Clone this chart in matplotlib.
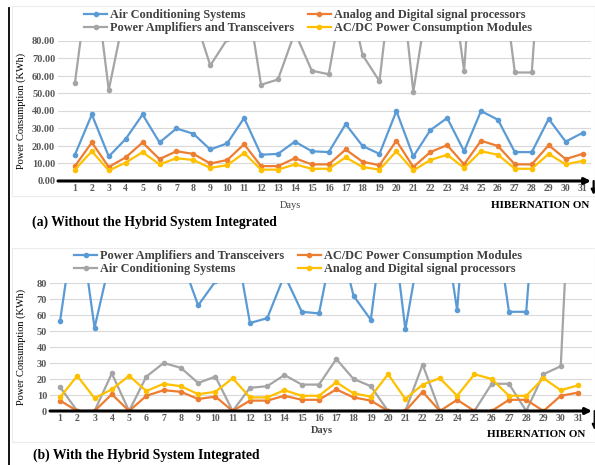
import matplotlib
matplotlib.use("Agg")
import matplotlib.pyplot as plt
from matplotlib.lines import Line2D
from matplotlib.patches import Rectangle

days = list(range(1, 32))

# Panel (a): without hybrid system
a_air = [15, 38, 14, 24, 38, 22, 30, 27, 18, 21.5, 36, 15, 15.5, 22.5, 17, 16.5,
         32.5, 20, 15.5, 40, 14, 29, 36, 17, 40, 35, 16.5, 16.5, 35.5, 22.5, 27.5]
a_amp = [56, 130, 52, 99, 120, 130, 110, 96, 66, 81, 116, 55, 58, 85, 63, 61,
         115, 72, 57, 140, 51, 113, 134, 63, 200, 137, 62, 62, 200, 130, 140]
a_adsp = [8.5, 22, 8, 13.5, 22, 12.5, 17, 15.5, 10, 12, 21, 8.5, 8.5, 13, 9.5, 9.5,
          18, 11, 9, 23, 8, 16.5, 20.5, 9.5, 23, 20, 9.5, 9.5, 20.5, 12.5, 15.5]
a_acdc = [6.5, 17, 6, 10.5, 16.5, 9.5, 13, 12, 7.5, 9, 16, 6.5, 6.5, 9.5, 7, 7,
          13.5, 8, 6.5, 17, 6, 12, 15, 7.5, 17, 15, 7, 7, 15.5, 9.5, 11.5]

# Panel (b): with hybrid system
b_amp = [56, 130, 52, 99, 120, 130, 110, 96, 66, 81, 116, 55, 58, 85, 62, 61,
         115, 72, 57, 140, 51, 113, 134, 63, 200, 137, 62, 62, 200, 130, 140]
b_acdc = [6.5, 0, 0, 10.5, 0, 9.5, 13, 12, 7.5, 9, 0, 6.5, 6.5, 9.5, 7, 7,
          13.5, 8.5, 6.5, 0, 0, 12, 0, 7, 0, 0, 7, 7, 0, 9.5, 11.5]
b_air = [15, 0, 0, 23.5, 0, 21.5, 30, 27, 17.5, 21.5, 0, 14.5, 15.5, 22.5, 16.5, 16.5,
         32.5, 20, 15.5, 0, 0, 29, 0, 0, 0, 17, 17, 0, 23, 28, 250]
b_adsp = [8.5, 22, 8, 13.5, 22, 12.5, 17, 15.5, 10.5, 12, 20.5, 8.5, 8.5, 13, 9.5, 9.5,
          18, 11, 9, 23, 7.5, 16.5, 20.5, 9.5, 23, 20, 9.5, 9.5, 20.5, 13, 16]

BLUE = "#5b9bd5"
ORANGE = "#ed7d31"
GRAY = "#a5a5a5"
YELLOW = "#ffc000"

SERIF = ["Liberation Serif", "DejaVu Serif"]
W, H = 595, 465

fig = plt.figure(figsize=(W / 100, H / 100), dpi=100)


def px_axes(l, t, r, b):
    return fig.add_axes([l / W, 1 - b / H, (r - l) / W, (b - t) / H])


def style(ax, xlim, yticks, fmt, arrow_drop):
    ax.set_xlim(*xlim)
    ax.set_ylim(0, 80)
    ax.set_xticks(days)
    ax.set_yticks(yticks)
    ax.set_yticklabels([fmt.format(v) for v in yticks])
    for s in ax.spines.values():
        s.set_visible(False)
    ax.tick_params(length=0, colors="#595959", labelsize=7.5, pad=2)
    for lab in ax.get_xticklabels() + ax.get_yticklabels():
        lab.set_fontfamily(SERIF)
        lab.set_fontweight("bold")
    for lab in ax.get_xticklabels():
        lab.set_fontsize(7)
    ax.yaxis.grid(True, color="#d9d9d9", lw=0.8)
    ax.set_axisbelow(True)
    ax.annotate("", xy=(1.0, 0), xytext=(0, 0), xycoords="axes fraction",
                arrowprops=dict(arrowstyle="-|>", color="black", lw=2.2,
                                shrinkA=0, shrinkB=0, mutation_scale=9),
                annotation_clip=False)
    ax.annotate("", xy=(1.005, -arrow_drop), xytext=(1.005, 0), xycoords="axes fraction",
                arrowprops=dict(arrowstyle="-|>", color="black", lw=1.6,
                                shrinkA=0, shrinkB=0, mutation_scale=7),
                annotation_clip=False)


def plot_series(ax, data):
    for vals, col, lab in data:
        ax.plot(days, vals, color=col, lw=1.6, marker="o", ms=3, label=lab)


LEG = dict(bbox_transform=fig.transFigure, ncol=2, frameon=False,
           prop=dict(family=SERIF, weight="bold", size=8.8), handlelength=1.9,
           handletextpad=0.25, columnspacing=1.1, labelspacing=0.1,
           borderpad=0, borderaxespad=0, labelcolor="#404040")

# Faint chart-area boxes and the left border line
fig.add_artist(Rectangle((12 / W, 1 - 196 / H), (W - 12) / W, 190 / H,
                         transform=fig.transFigure, fill=False, ec="#ececec", lw=0.8))
fig.add_artist(Rectangle((12 / W, 1 - 442 / H), (W - 12) / W, 194 / H,
                         transform=fig.transFigure, fill=False, ec="#ececec", lw=0.8))
fig.add_artist(Line2D([9 / W, 9 / W], [1 - 8 / H, 0], transform=fig.transFigure,
                      color="black", lw=1.3))

# Panel (a)
ax1 = px_axes(58, 41, 591, 181)
plot_series(ax1, [(a_air, BLUE, "Air Conditioning Systems"),
                  (a_amp, GRAY, "Power Amplifiers and Transceivers"),
                  (a_adsp, ORANGE, "Analog and Digital signal processors"),
                  (a_acdc, YELLOW, "AC/DC Power Consumption Modules")])
style(ax1, (0, 31.5), list(range(0, 90, 10)), "{:.2f}", 0.1)
ax1.set_ylabel("Power Consumption (KWh)", family=SERIF, fontsize=7.5, labelpad=4)
ax1.legend(loc="upper left", bbox_to_anchor=(84 / W, 1 - 9 / H), **LEG)
fig.text(290 / W, 1 - 205 / H, "Days", family=SERIF, fontsize=7.5, color="#404040",
         ha="center", va="center")
fig.text(589 / W, 1 - 205 / H, "HIBERNATION ON", family=SERIF, weight="bold",
         fontsize=8, ha="right", va="center")
fig.text(32 / W, 1 - 222 / H, "(a) Without the Hybrid System Integrated", family=SERIF,
         weight="bold", fontsize=9.8, ha="left", va="center")

# Panel (b)
ax2 = px_axes(50, 283, 592, 411)
plot_series(ax2, [(b_amp, BLUE, "Power Amplifiers and Transceivers"),
                  (b_air, GRAY, "Air Conditioning Systems"),
                  (b_acdc, ORANGE, "AC/DC Power Consumption Modules"),
                  (b_adsp, YELLOW, "Analog and Digital signal processors")])
style(ax2, (0.42, 31.81), list(range(0, 90, 10)), "{:d}", 0.15)
ax2.set_ylabel("Power Consumption (KWh)", family=SERIF, fontsize=7.5, labelpad=8)
ax2.legend(loc="upper left", bbox_to_anchor=(74 / W, 1 - 250 / H), **LEG)
fig.text(322 / W, 1 - 430 / H, "Days", family=SERIF, fontsize=7.5, color="#404040",
         weight="bold", ha="center", va="center")
fig.text(585 / W, 1 - 434 / H, "HIBERNATION ON", family=SERIF, weight="bold",
         fontsize=8, ha="right", va="center")
fig.text(33 / W, 1 - 455 / H, "(b) With the Hybrid System Integrated", family=SERIF,
         weight="bold", fontsize=9.8, ha="left", va="center")

fig.savefig("out.png", dpi=100)
